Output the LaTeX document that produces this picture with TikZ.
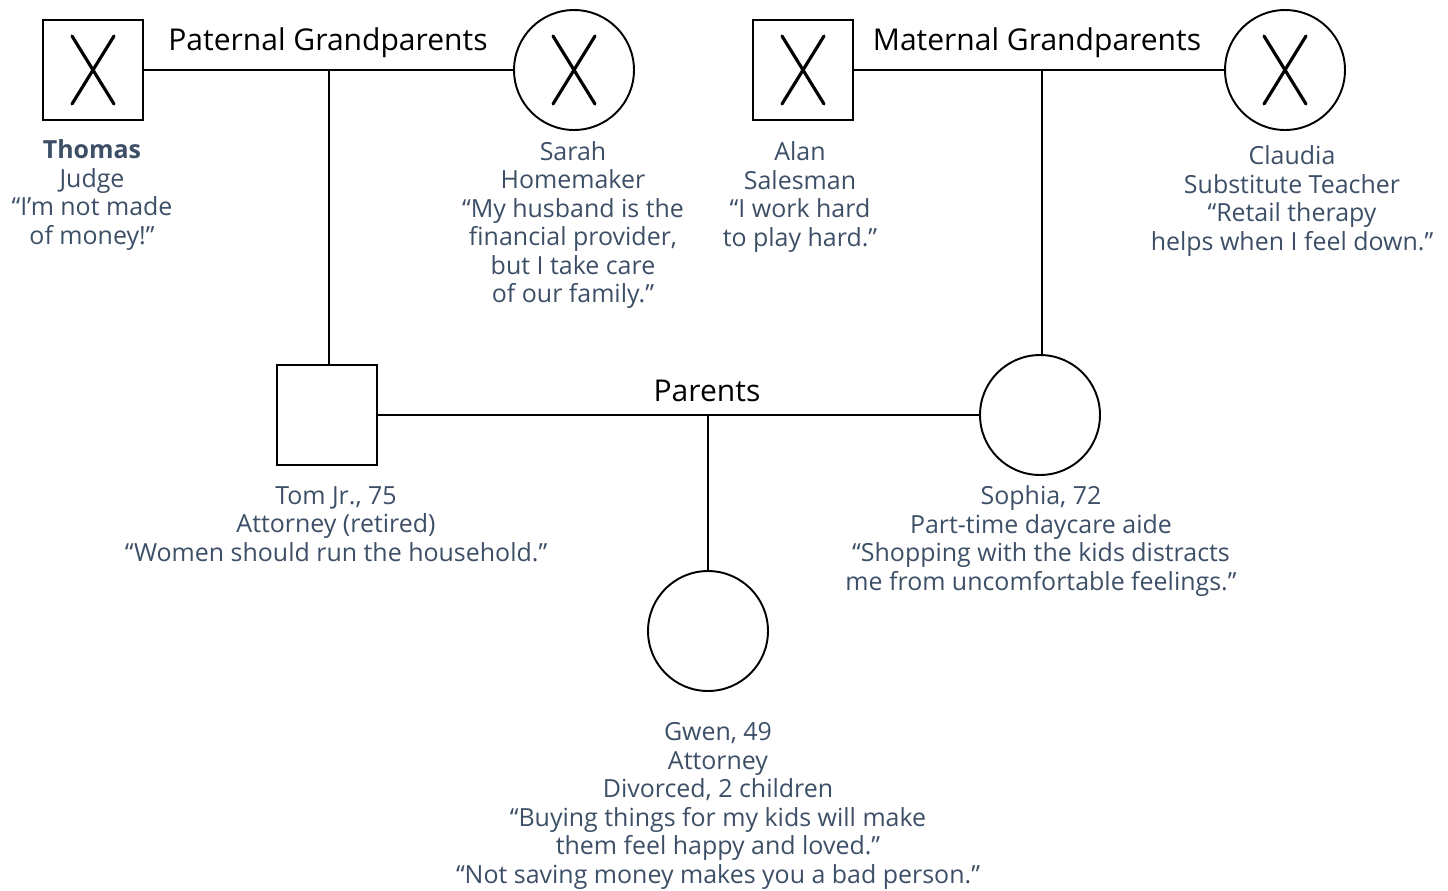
\documentclass[tikz,border=0pt]{standalone}
\usepackage{fontspec}
\setmainfont{Open Sans}
\definecolor{labelblue}{HTML}{3D4F66}
\tikzset{
  male/.style={draw, line width=1.1pt, minimum size=2cm, inner sep=0pt},
  female/.style={draw, circle, line width=1.1pt, minimum size=2.4cm, inner sep=0pt},
  info/.style={align=center, text=labelblue, font=\fontsize{14.2}{16.25}\selectfont},
  couple/.style={font=\fontsize{17.1}{19}\selectfont},
  link/.style={line width=1.1pt},
  dead/.style={line width=1.8pt, line cap=round}
}
\begin{document}
\begin{tikzpicture}[x=0.02cm, y=-0.02cm]
    \useasboundingbox (0,0) rectangle (1448,890);

    % grandparents
    \node[male] at (93, 70) (thomas) {};
    \node[female] at (574, 70) (sarah) {};
    \node[male] at (803, 70) (alan) {};
    \node[female] at (1285, 70) (claudia) {};

    % parents and child
    \node[male] at (327, 415) (tomjr) {};
    \node[female] at (1040, 415) (sophia) {};
    \node[female] at (708, 631) (gwen) {};

    \node[couple] at (328, 43) (pg) {Paternal Grandparents};
    \node[couple] at (1037, 43) (mg) {Maternal Grandparents};
    \node[couple] at (707, 391) (pa) {Parents};

    \coordinate (pgmid) at (329, 70);
    \coordinate (mgmid) at (1042, 70);
    \coordinate (pamid) at (708, 415);

    \draw [link] (thomas.east) to (sarah.west);
    \draw [link] (alan.east) to (claudia.west);
    \draw [link] (tomjr.east) to (sophia.west);

    \draw [link] (pgmid) to (pgmid |- tomjr.north);
    \draw [link] (mgmid) to (mgmid |- sophia.north);
    \draw [link] (pamid) to (gwen.north);

%Deceased marks
    \foreach \p in {thomas, sarah, alan, claudia}{
      \draw [dead] (\p.center) ++(-21,-34) -- ++(42,68);
      \draw [dead] (\p.center) ++(21,-34) -- ++(-42,68);
    }

%Person labels
    \node[info] at (92, 195) (tl) {\textbf{Thomas}\\Judge\\“I’m not made\\of money!”};
    \node[info] at (573, 225) (sl) {Sarah\\Homemaker\\“My husband is the\\financial provider,\\but I take care\\of our family.”};
    \node[info] at (800, 197) (al) {Alan\\Salesman\\“I work hard\\to play hard.”};
    \node[info] at (1292, 201) (cl) {Claudia\\Substitute Teacher\\“Retail therapy\\helps when I feel down.”};
    \node[info] at (336, 524) (tjl) {Tom Jr., 75\\Attorney (retired)\\“Women should run the household.”};
    \node[info] at (1041, 541) (sol) {Sophia, 72\\Part-time daycare aide\\“Shopping with the kids distracts\\me from uncomfortable feelings.”};
    \node[info] at (718, 806) (gl) {Gwen, 49\\Attorney\\Divorced, 2 children\\“Buying things for my kids will make\\them feel happy and loved.”\\“Not saving money makes you a bad person.”};

  \end{tikzpicture}
\end{document}
